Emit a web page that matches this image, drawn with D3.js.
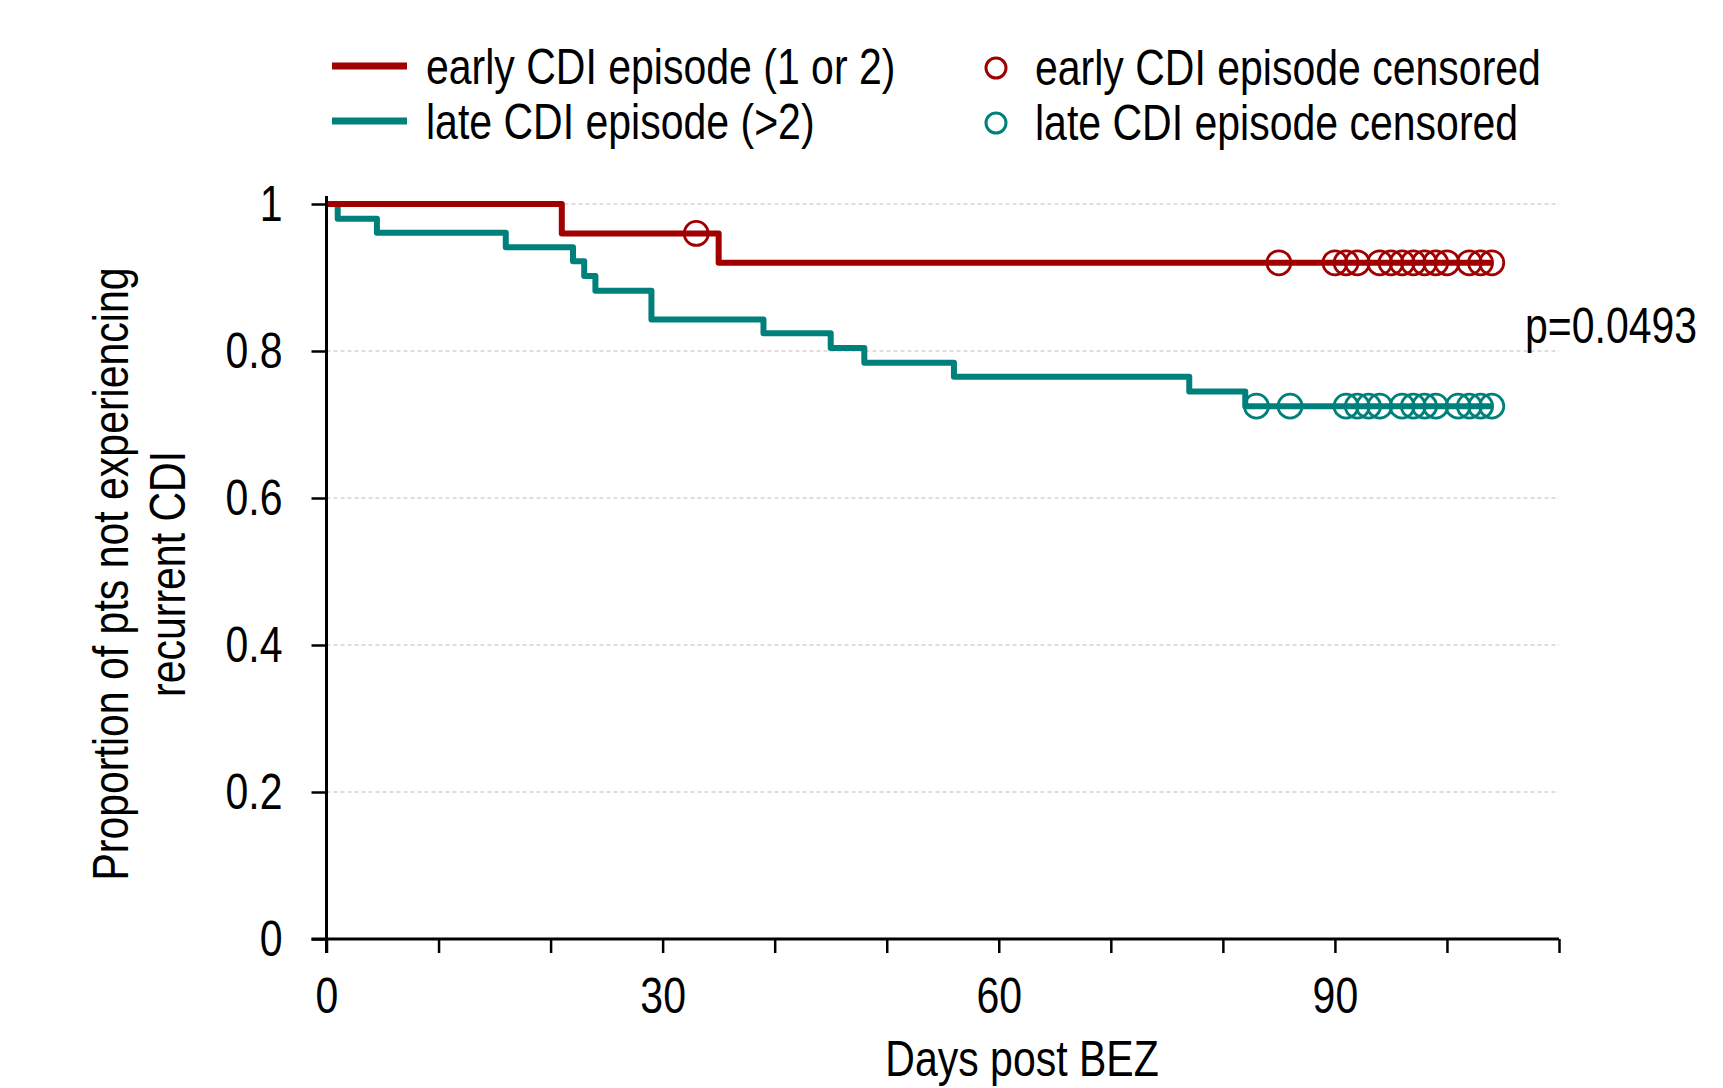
<!DOCTYPE html>
<html>
<head>
  <meta charset="UTF-8">
  <style>
    body { margin: 0; background: #fff; }
    svg { display: block; }
    text { font-family: "Liberation Sans", Arial, sans-serif; fill: #000; }
  </style>
</head>
<body>
  <script src="https://d3js.org/d3.v7.min.js"></script>
  <script>
    // Kaplan-Meier steps
    var earlyDays = [0, 21, 35];
    var earlySurv = [1, 0.96, 0.92];
    var earlyCensored = [33, 85, 90, 91, 92, 94, 95, 96, 97, 98, 99, 100, 102, 103, 104];

    var lateDays = [0, 1, 4.5, 16, 22, 23, 24, 29, 39, 45, 48, 56, 77, 82];
    var lateSurv = [1, 0.980, 0.961, 0.941, 0.922, 0.902, 0.882, 0.843, 0.824, 0.804, 0.784, 0.765, 0.745, 0.725];
    var lateCensored = [83, 86, 91, 92, 93, 94, 96, 97, 98, 99, 101, 102, 103, 104];

    var lastDay = 104;
    var xTicks = [0, 10, 20, 30, 40, 50, 60, 70, 80, 90, 100, 110];
    var xLabels = [0, 30, 60, 90];
    var yTicks = [0, 0.2, 0.4, 0.6, 0.8, 1];
    var pValue = "p=0.0493";

    var red = "#a00000", teal = "#00807a";
    var W = 1723, H = 1088;
    var squeeze = 0.82; // arial narrow look

    var svg = d3.select("body").append("svg").attr("width", W).attr("height", H);

    var x = d3.scaleLinear().domain([0, 110]).range([326.5, 1559]);
    var y = d3.scaleLinear().domain([0, 1]).range([939, 204]);

    // narrow text placed at (px, py), optional rotation
    function label(px, py, str, anchor, rot) {
      return svg.append("text")
        .attr("transform", "translate(" + px + "," + py + ")" + (rot ? " rotate(" + rot + ")" : "") + " scale(" + squeeze + ",1)")
        .attr("text-anchor", anchor || "start")
        .attr("font-size", 50)
        .text(str);
    }

    // grid
    svg.append("g").selectAll("line").data(yTicks.filter(function(d) { return d > 0; }))
      .enter().append("line")
      .attr("x1", x(0)).attr("x2", x(110))
      .attr("y1", function(d) { return y(d); }).attr("y2", function(d) { return y(d); })
      .attr("stroke", "#bdbdbd").attr("stroke-width", 1.2).attr("stroke-dasharray", "4,3");

    function stepAt(days, surv, t) {
      var s = surv[0];
      for (var i = 0; i < days.length; i++) if (days[i] <= t) s = surv[i];
      return s;
    }

    var line = d3.line().curve(d3.curveStepAfter)
      .x(function(d) { return x(d[0]); }).y(function(d) { return y(d[1]); });

    function curve(days, surv, censored, color) {
      var pts = days.map(function(d, i) { return [d, surv[i]]; });
      pts.push([lastDay, surv[surv.length - 1]]);
      svg.append("path").datum(pts)
        .attr("d", line).attr("fill", "none").attr("stroke", color)
        .attr("stroke-width", 6).attr("stroke-linejoin", "round");
      svg.append("g").selectAll("circle").data(censored).enter().append("circle")
        .attr("cx", function(d) { return x(d); })
        .attr("cy", function(d) { return y(stepAt(days, surv, d)); })
        .attr("r", 12).attr("fill", "none").attr("stroke", color).attr("stroke-width", 2.8);
    }

    curve(lateDays, lateSurv, lateCensored, teal);
    curve(earlyDays, earlySurv, earlyCensored, red);

    // axes
    var gx = svg.append("g").attr("transform", "translate(0," + y(0) + ")")
      .call(d3.axisBottom(x).tickValues(xTicks).tickSize(14).tickPadding(25)
        .tickFormat(function(d) { return xLabels.indexOf(d) >= 0 ? d : ""; }));
    gx.select(".domain").remove();
    gx.selectAll("line").attr("stroke", "#000").attr("stroke-width", 2.5);
    gx.selectAll("text").attr("font-size", 50).attr("font-family", null)
      .attr("transform", "scale(" + squeeze + ",1)");

    var gy = svg.append("g").attr("transform", "translate(" + x(0) + ",0)")
      .call(d3.axisLeft(y).tickValues(yTicks).tickSize(15).tickFormat(d3.format("~g")));
    gy.select(".domain").remove();
    gy.selectAll("line").attr("stroke", "#000").attr("stroke-width", 2.5);
    gy.selectAll("text").attr("font-size", 50).attr("font-family", null)
      .attr("x", -44 / squeeze).attr("transform", "scale(" + squeeze + ",1)");

    svg.append("line").attr("x1", x(0)).attr("x2", x(0)).attr("y1", y(1) - 8).attr("y2", y(0) + 14)
      .attr("stroke", "#000").attr("stroke-width", 3);
    svg.append("line").attr("x1", x(0) - 15).attr("x2", x(110)).attr("y1", y(0)).attr("y2", y(0))
      .attr("stroke", "#000").attr("stroke-width", 3);

    // axis titles
    label(1022, 1076, "Days post BEZ", "middle");
    label(128, 574, "Proportion of pts not experiencing", "middle", -90);
    label(185, 574, "recurrent CDI", "middle", -90);

    label(1525, 343, pValue);

    // legend
    var lineItems = [["early CDI episode (1 or 2)", red], ["late CDI episode (>2)", teal]];
    var dotItems = [["early CDI episode censored", red], ["late CDI episode censored", teal]];
    lineItems.forEach(function(it, i) {
      var cy = 66 + i * 55;
      svg.append("line").attr("x1", 332).attr("x2", 407).attr("y1", cy).attr("y2", cy)
        .attr("stroke", it[1]).attr("stroke-width", 7);
      label(426, cy + 18, it[0]);
    });
    dotItems.forEach(function(it, i) {
      var cy = 68 + i * 55;
      svg.append("circle").attr("cx", 996).attr("cy", cy).attr("r", 10)
        .attr("fill", "none").attr("stroke", it[1]).attr("stroke-width", 3);
      label(1035, cy + 17, it[0]);
    });
  </script>
</body>
</html>
